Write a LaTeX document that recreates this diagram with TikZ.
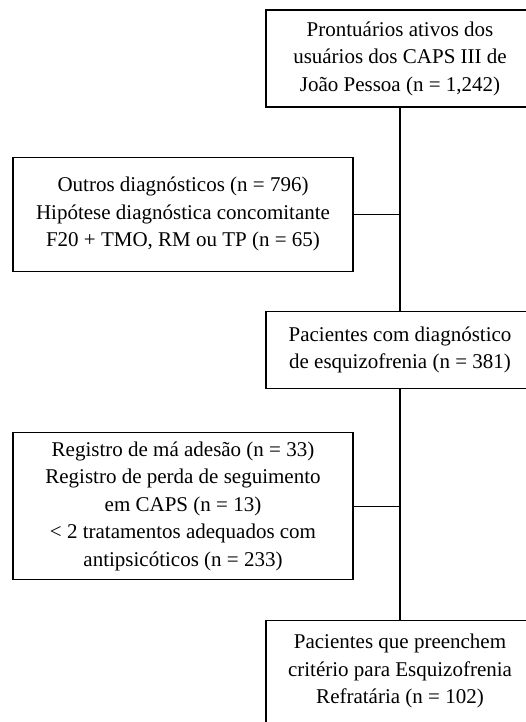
\documentclass[tikz,border=0pt]{standalone}
\usepackage{fontspec}
\setmainfont{Liberation Serif}
\usetikzlibrary{positioning}

\begin{document}
\begin{tikzpicture}[
    x=1pt, y=1pt,
    flow/.style={draw, line width=1.4pt, minimum width=268pt, align=center, inner sep=4pt, font=\fontsize{21}{27.5}\selectfont},
    excl/.style={draw, line width=1.4pt, minimum width=340pt, align=center, inner sep=4pt, font=\fontsize{21}{27.5}\selectfont},
    link/.style={line width=1.4pt},
]
\useasboundingbox (0,0) rectangle (526,722);
\clip (0,0) rectangle (526,722);

% Main flow
\node[flow, minimum height=97pt] (p1) at (400,663.5) {Prontuários ativos dos\\usuários dos CAPS III de\\João Pessoa (n = 1,242)};
\node[flow, minimum height=77pt, below=203pt of p1] (p2) {Pacientes com diagnóstico\\de esquizofrenia (n = 381)};
\node[flow, minimum height=118pt, below=231pt of p2] (p3) {Pacientes que preenchem\\critério para Esquizofrenia\\Refratária (n = 102)\\[-6pt]};

% Exclusions
\node[excl, minimum height=114pt, below=49pt of p1.south, xshift=-217pt] (ex1) {Outros diagnósticos (n = 796)\\Hipótese diagnóstica concomitante\\F20 + TMO, RM ou TP (n = 65)};
\node[excl, minimum height=147pt, below=43pt of p2.south, xshift=-217pt] (ex2) {Registro de má adesão (n = 33)\\Registro de perda de seguimento\\em CAPS (n = 13)\\< 2 tratamentos adequados com\\antipsicóticos (n = 233)};

\draw[link] (p1) -- (p2);
\draw[link] (p2) -- (p3);
\foreach \e in {ex1, ex2} {
    \draw[link] (\e.east) -- (\e.east -| p1.south);
}

\end{tikzpicture}
\end{document}
